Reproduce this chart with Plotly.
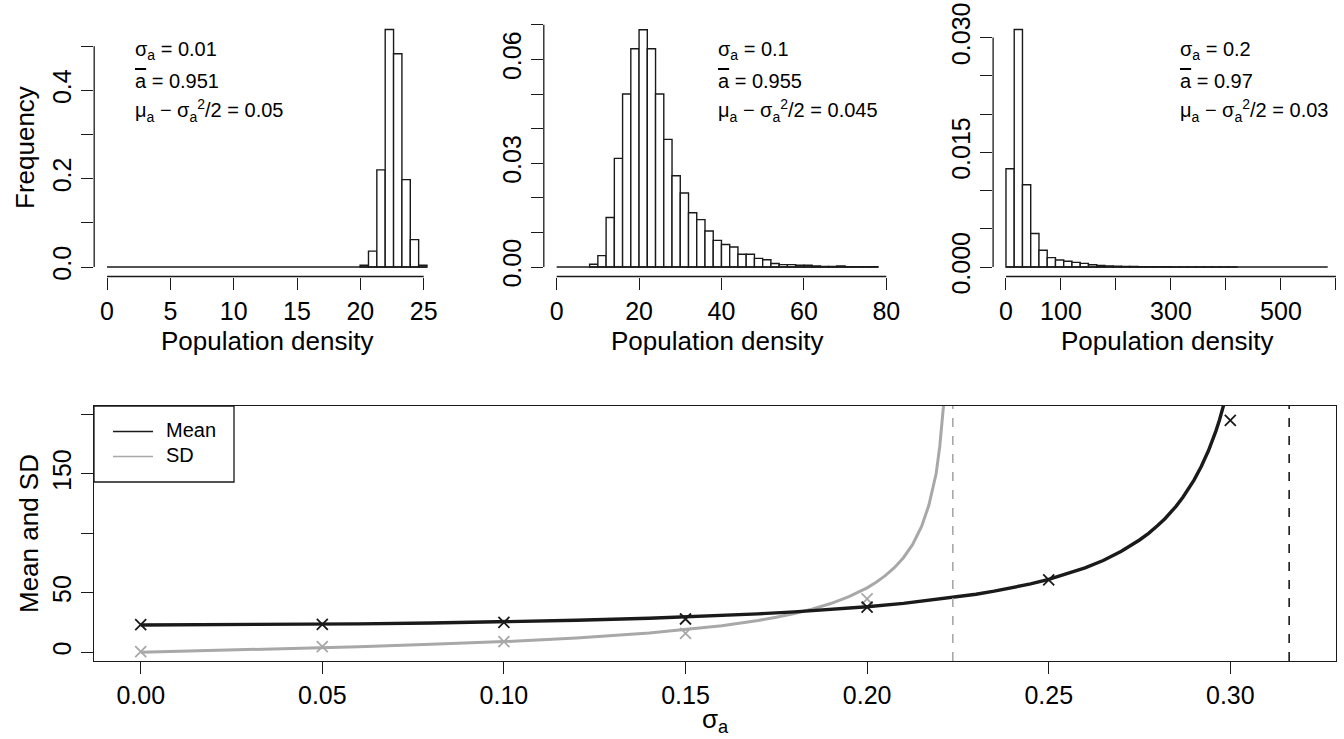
import plotly.graph_objects as go

W, H = 1344, 739
FONT = "Liberation Sans, Arial, Helvetica, sans-serif"
GRAY = "#A8A8A8"
BLACK = "#1a1a1a"

# ---------------- data: histograms (density) ----------------
# Panel 1: sigma_a = 0.01
h1_first_edge = 19.98
h1_bin_width = 0.66
h1_density = [0.004, 0.036, 0.220, 0.538, 0.483, 0.198, 0.062, 0.004]
h1_span = [0.0, 25.26]

# Panel 2: sigma_a = 0.1
h2_first_edge = 8
h2_bin_width = 2
h2_density = [0.0008, 0.0033, 0.0143, 0.0314, 0.0500, 0.0631, 0.0686, 0.0631,
              0.0500, 0.0369, 0.0264, 0.0214, 0.0157, 0.0137, 0.0104, 0.0077,
              0.0065, 0.0058, 0.0037, 0.0037, 0.0025, 0.0021, 0.0010, 0.0007,
              0.0007, 0.0005, 0.0005, 0.0003, 0.0002, 0.0002, 0.0003, 0.0001,
              0.0001, 0.0001, 0.0001]
h2_span = [0, 78]

# Panel 3: sigma_a = 0.2
h3_first_edge = 0
h3_bin_width = 15
h3_density = [0.01285, 0.03105, 0.01075, 0.00439, 0.00219, 0.00123, 0.00092,
              0.00075, 0.00061, 0.00048, 0.00030, 0.00020, 0.00015, 0.00010,
              0.00008, 0.00006, 0.00005, 0.00004, 0.00003, 0.00003, 0.00002,
              0.00002, 0.00002, 0.00001, 0.00001, 0.00001, 0.00001, 0.00001]
h3_span = [0, 585]

# tick values: labelled (major) and unlabelled (minor)
p1_xticks = [0, 5, 10, 15, 20, 25]
p1_yticks = [0, 0.2, 0.4]
p1_yminor = [0.1, 0.3, 0.5]
p1_ylabels = ["0.0", "0.2", "0.4"]
p2_xticks = [0, 20, 40, 60, 80]
p2_yticks = [0, 0.03, 0.06]
p2_yminor = [0.01, 0.02, 0.04, 0.05, 0.07]
p2_ylabels = ["0.00", "0.03", "0.06"]
p3_xticks = [0, 100, 300, 500]
p3_xminor = [200, 400, 600]
p3_xlabels = ["0", "100", "300", "500"]
p3_yticks = [0, 0.015, 0.030]
p3_yminor = [0.005, 0.010, 0.020, 0.025]
p3_ylabels = ["0.000", "0.015", "0.030"]

# annotation values
sigma_values = ["0.01", "0.1", "0.2"]
abar_values = ["0.951", "0.955", "0.97"]
growth_values = ["0.05", "0.045", "0.03"]

# ---------------- data: bottom panel ----------------
mean_curve_sigma = [0, 0.02, 0.04, 0.06, 0.08, 0.10, 0.12, 0.14, 0.16, 0.17, 0.18,
                    0.19, 0.20, 0.21, 0.22, 0.23, 0.235, 0.24, 0.245, 0.25, 0.255,
                    0.26, 0.265, 0.27, 0.275, 0.2775, 0.28, 0.282, 0.285, 0.287,
                    0.29, 0.292, 0.294, 0.295, 0.296, 0.297, 0.298, 0.299]
mean_curve = [23.0, 23.1, 23.4, 23.9, 24.6, 25.6, 26.9, 28.6, 30.9, 32.3, 34.0,
              36.0, 38.3, 41.1, 44.6, 48.8, 51.4, 54.3, 57.5, 61.3, 65.8,
              71.0, 77.2, 84.9, 94.4, 100.0, 106.5, 112.3, 122.5, 130.5,
              144.7, 156.1, 169.6, 177.3, 185.7, 195.1, 205.4, 217.0]
sd_curve_sigma = [0, 0.02, 0.04, 0.06, 0.08, 0.10, 0.12, 0.14, 0.16, 0.165, 0.17,
                  0.175, 0.18, 0.185, 0.19, 0.195, 0.20, 0.2025, 0.205, 0.2075, 0.21,
                  0.2125, 0.215, 0.217, 0.218, 0.219, 0.220, 0.2205, 0.221, 0.222]
sd_curve = [0.0, 1.5, 3.0, 4.7, 6.7, 9.0, 12.1, 16.2, 22.4, 24.4, 26.8,
            29.5, 32.6, 36.4, 41.0, 46.8, 54.2, 58.9, 64.4, 71.1, 79.5,
            90.5, 105.8, 123.6, 135.8, 150.0, 173.0, 187.9, 206.0, 262.0]
sim_sigma = [0.00, 0.05, 0.10, 0.15, 0.20, 0.25, 0.30]
sim_mean = [23.3, 23.5, 25.2, 28.0, 37.9, 60.9, 195.0]
sim_sd_sigma = [0.00, 0.05, 0.10, 0.15, 0.20]
sim_sd = [0.5, 4.7, 8.9, 16.0, 45.0]
sd_limit = 0.2236
mean_limit = 0.3162
b_xticks = [0, 0.05, 0.10, 0.15, 0.20, 0.25, 0.30]
b_xlabels = ["0.00", "0.05", "0.10", "0.15", "0.20", "0.25", "0.30"]
b_yticks = [0, 50, 150]
b_yminor = [100, 200]
b_ylabels = ["0", "50", "150"]


def px(x):
    return x / W


def py(y):
    return 1 - y / H


fig = go.Figure()

hists = [
    (h1_first_edge, h1_bin_width, h1_density, h1_span, "x", "y"),
    (h2_first_edge, h2_bin_width, h2_density, h2_span, "x2", "y2"),
    (h3_first_edge, h3_bin_width, h3_density, h3_span, "x3", "y3"),
]
for first, bw, dens, span, xa, ya in hists:
    centers = [first + bw * (i + 0.5) for i in range(len(dens))]
    fig.add_trace(go.Bar(x=centers, y=dens, width=bw, xaxis=xa, yaxis=ya,
                         marker=dict(color="white", line=dict(color=BLACK, width=1.4)),
                         showlegend=False, hoverinfo="skip"))
    fig.add_trace(go.Scatter(x=span, y=[0, 0], mode="lines", xaxis=xa, yaxis=ya,
                             line=dict(color=BLACK, width=1.6), showlegend=False,
                             hoverinfo="skip"))

# bottom panel
fig.add_trace(go.Scatter(x=sd_curve_sigma, y=sd_curve, mode="lines", name="SD",
                         line=dict(color=GRAY, width=3), xaxis="x4", yaxis="y4",
                         showlegend=False))
fig.add_trace(go.Scatter(x=sim_sd_sigma, y=sim_sd, mode="markers", xaxis="x4", yaxis="y4",
                         marker=dict(symbol="x-thin", size=11, line=dict(color=GRAY, width=1.8)),
                         showlegend=False))
fig.add_trace(go.Scatter(x=mean_curve_sigma, y=mean_curve, mode="lines", name="Mean",
                         line=dict(color=BLACK, width=3.4), xaxis="x4", yaxis="y4",
                         showlegend=False))
fig.add_trace(go.Scatter(x=sim_sigma, y=sim_mean, mode="markers", xaxis="x4", yaxis="y4",
                         marker=dict(symbol="x-thin", size=11, line=dict(color=BLACK, width=1.8)),
                         showlegend=False))

tickfont = dict(family=FONT, size=25, color="black")
common = dict(ticks="outside", ticklen=12, tickwidth=1.3, tickcolor=BLACK, automargin=False,
              showgrid=False, zeroline=False, tickfont=tickfont, tickmode="array")


def minor(vals):
    return dict(tickmode="array", tickvals=vals, ticks="outside", ticklen=12,
                tickwidth=1.3, tickcolor=BLACK, showgrid=False)


# plot-region pixel boxes
p1 = (94.2, 439.8)
p2 = (543.8, 890.9)
p3 = (993.1, 1340.6)
top_y = (20.0, 276.5)
bot_x = (94.0, 1336.0)
bot_y = (406.0, 661.0)

layout = dict(
    width=W, height=H, margin=dict(l=0, r=0, t=0, b=0, autoexpand=False),
    paper_bgcolor="white", plot_bgcolor="white",
    font=dict(family=FONT, color="black"),
    xaxis=dict(domain=[px(p1[0]), px(p1[1])], range=[-1.01, 26.27], anchor="y",
               tickvals=p1_xticks, ticktext=[str(v) for v in p1_xticks], showline=False, **common),
    yaxis=dict(domain=[py(top_y[1]), py(top_y[0])], range=[-0.0215, 0.5595], anchor="x",
               tickvals=p1_yticks, ticktext=p1_ylabels, tickangle=-90, showline=False,
               minor=minor(p1_yminor), **common),
    xaxis2=dict(domain=[px(p2[0]), px(p2[1])], range=[-3.12, 81.12], anchor="y2",
                tickvals=p2_xticks, ticktext=[str(v) for v in p2_xticks], showline=False, **common),
    yaxis2=dict(domain=[py(top_y[1]), py(top_y[0])], range=[-0.00274, 0.0714], anchor="x2",
                tickvals=p2_yticks, ticktext=p2_ylabels, tickangle=-90, showline=False,
                minor=minor(p2_yminor), **common),
    xaxis3=dict(domain=[px(p3[0]), px(p3[1])], range=[-23.4, 608.4], anchor="y3",
                tickvals=p3_xticks, ticktext=p3_xlabels, showline=False,
                minor=minor(p3_xminor), **common),
    yaxis3=dict(domain=[py(top_y[1]), py(top_y[0])], range=[-0.00124, 0.0323], anchor="x3",
                tickvals=p3_yticks, ticktext=p3_ylabels, tickangle=-90, showline=False,
                minor=minor(p3_yminor), **common),
    xaxis4=dict(domain=[px(bot_x[0]), px(bot_x[1])], range=[-0.01286, 0.3291], anchor="y4",
                tickvals=b_xticks, ticktext=b_xlabels, showline=True, mirror=True,
                linecolor=BLACK, linewidth=1.3, **common),
    yaxis4=dict(domain=[py(bot_y[1]), py(bot_y[0])], range=[-7.3, 207], anchor="x4",
                tickvals=b_yticks, ticktext=b_ylabels, tickangle=-90, showline=True, mirror=True,
                linecolor=BLACK, linewidth=1.3, minor=minor(b_yminor), **common),
)

shapes = []
# R-style axis lines spanning first..last tick for the histogram panels
for xa, ya, xt, yt in [("x", "y", p1_xticks, p1_yticks + p1_yminor),
                       ("x2", "y2", p2_xticks, p2_yticks + p2_yminor),
                       ("x3", "y3", p3_xticks + p3_xminor, p3_yticks + p3_yminor)]:
    shapes.append(dict(type="line", xref=xa, yref=ya + " domain", x0=min(xt), x1=max(xt),
                       y0=0, y1=0, line=dict(color=BLACK, width=1.3)))
    shapes.append(dict(type="line", xref=xa + " domain", yref=ya, x0=0, x1=0,
                       y0=min(yt), y1=max(yt), line=dict(color=BLACK, width=1.3)))
# asymptote lines
shapes.append(dict(type="line", xref="x4", yref="y4 domain", x0=sd_limit, x1=sd_limit,
                   y0=0, y1=1, line=dict(color=GRAY, width=1.6, dash="dash")))
shapes.append(dict(type="line", xref="x4", yref="y4 domain", x0=mean_limit, x1=mean_limit,
                   y0=0, y1=1, line=dict(color=BLACK, width=1.6, dash="dash")))
# legend box
shapes.append(dict(type="rect", xref="paper", yref="paper", x0=px(94), x1=px(234),
                   y0=py(482), y1=py(406), line=dict(color=BLACK, width=1.3),
                   fillcolor="white"))
shapes.append(dict(type="line", xref="paper", yref="paper", x0=px(113), x1=px(153),
                   y0=py(431.5), y1=py(431.5), line=dict(color=BLACK, width=1.3)))
shapes.append(dict(type="line", xref="paper", yref="paper", x0=px(113), x1=px(153),
                   y0=py(456.5), y1=py(456.5), line=dict(color=GRAY, width=1.3)))
layout["shapes"] = shapes

ann = []
afont = dict(family=FONT, size=20, color="black")
text_left = [133, 716, 1178]
for i in range(3):
    lines = [
        "σ<sub>a</sub> = " + sigma_values[i],
        '<span style="text-decoration:overline">a</span> = ' + abar_values[i],
        "μ<sub>a</sub> − σ<sub>a</sub><sup>2</sup>/2 = " + growth_values[i],
    ]
    for j, t in enumerate(lines):
        ann.append(dict(text=t, xref="paper", yref="paper", x=px(text_left[i]),
                        y=py(51 + 30 * j), xanchor="left", yanchor="middle",
                        showarrow=False, font=afont))
tfont = dict(family=FONT, size=26, color="black")
for cx in [(p1[0] + p1[1]) / 2, (p2[0] + p2[1]) / 2, (p3[0] + p3[1]) / 2]:
    ann.append(dict(text="Population density", xref="paper", yref="paper", x=px(cx),
                    y=py(341), xanchor="center", yanchor="middle", showarrow=False, font=tfont))
ann.append(dict(text="Frequency", xref="paper", yref="paper", x=px(25), y=py(148),
                xanchor="center", yanchor="middle", textangle=-90, showarrow=False, font=tfont))
ann.append(dict(text="Mean and SD", xref="paper", yref="paper", x=px(29), y=py(534),
                xanchor="center", yanchor="middle", textangle=-90, showarrow=False, font=tfont))
ann.append(dict(text="σ<sub>a</sub>", xref="paper", yref="paper", x=px(715), y=py(739),
                xanchor="center", yanchor="bottom", showarrow=False, font=tfont))
# legend labels
ann.append(dict(text="Mean", xref="paper", yref="paper", x=px(164), y=py(430),
                xanchor="left", yanchor="middle", showarrow=False, font=afont))
ann.append(dict(text="SD", xref="paper", yref="paper", x=px(164), y=py(455),
                xanchor="left", yanchor="middle", showarrow=False, font=afont))
layout["annotations"] = ann

fig.update_layout(**layout)
fig.write_html("out.html",
               config={"displayModeBar": False},
               post_script="document.body.style.margin='0px';"
                           "document.body.style.overflow='hidden';")
